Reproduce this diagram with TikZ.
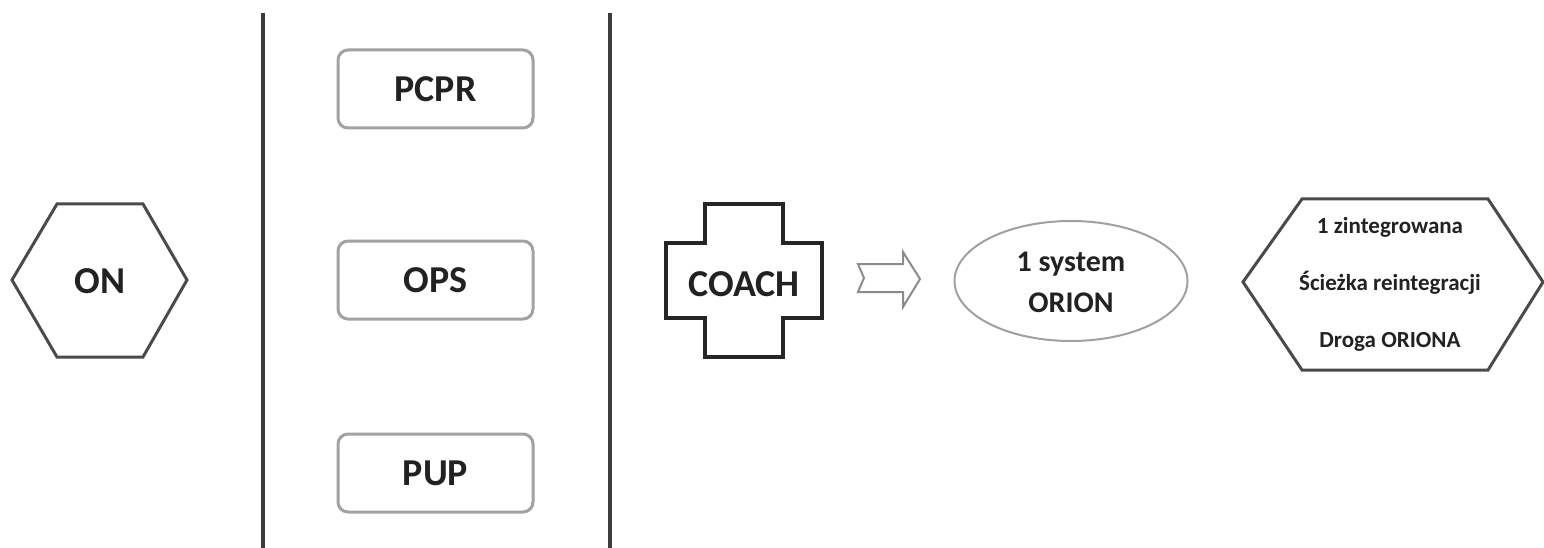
\documentclass[tikz,border=0pt]{standalone}
\usepackage{fontspec}
\setmainfont{Carlito}
\usetikzlibrary{shapes.geometric}
\definecolor{divgray}{HTML}{3C3C3C}
\definecolor{hexgray}{HTML}{4A4A4A}
\definecolor{boxgray}{HTML}{A2A2A2}
\definecolor{crossblk}{HTML}{262626}
\definecolor{arrgray}{HTML}{8C8C8C}
\definecolor{ellgray}{HTML}{A0A0A0}
\definecolor{txt}{HTML}{222222}
\begin{document}
\begin{tikzpicture}[x=1pt,y=-1pt,
  divider/.style={line width=4pt, draw=divgray},
  hexa/.style={line width=3pt, draw=hexgray, line join=miter},
  roundbox/.style={draw=boxgray, line width=3pt, rounded corners=10pt,
    minimum width=195pt, minimum height=78pt, inner sep=0pt},
  bigtext/.style={font=\fontsize{38}{40}\selectfont\bfseries, text=txt},
  midtext/.style={font=\fontsize{30}{41}\selectfont\bfseries, text=txt, align=center},
  smalltext/.style={font=\fontsize{23}{57}\selectfont\bfseries, text=txt, align=center},
  crossline/.style={line width=4pt, draw=crossblk, line join=miter},
  fatarrow/.style={line width=2pt, draw=arrgray, line join=miter},
  ellbox/.style={draw=ellgray, line width=2pt, ellipse, minimum width=233pt,
    minimum height=120pt, inner sep=0pt}
]
\useasboundingbox (0,0) rectangle (1544,548);
\fill[white] (0,0) rectangle (1544,548);

% ON hexagon
\draw[hexa] (12,280) -- (57,204) -- (143,204) -- (187,280) -- (143,357) -- (57,357) -- cycle;
\node[bigtext] (on) at (100,281) {ON};

% dividers
\coordinate (d1t) at (263,13);
\coordinate (d1b) at (263,548);
\coordinate (d2t) at (610,13);
\coordinate (d2b) at (610,548);
\draw[divider] (d1t) -- (d1b);
\draw[divider] (d2t) -- (d2b);

% boxes
\node[roundbox, bigtext] (pcpr) at (435.5,89) {PCPR};
\node[roundbox, bigtext] (ops) at (435.5,280) {OPS};
\node[roundbox, bigtext] (pup) at (435.5,473) {PUP};

% COACH cross
\draw[crossline] (705,204) -- (783,204) -- (783,243) -- (822,243) -- (822,318)
  -- (783,318) -- (783,357) -- (705,357) -- (705,318) -- (666,318) -- (666,243)
  -- (705,243) -- cycle;
\node[bigtext] (coach) at (744,284) {COACH};

% block arrow
\draw[fatarrow] (858,264) -- (903,264) -- (903,252) -- (920,279) -- (903,307)
  -- (903,292) -- (858,292) -- (864,278) -- cycle;

% ellipse
\node[ellbox] (orion) at (1071,281) {};
\node[midtext] (oriontxt) at (1071,282) {1 system\\ORION};

% right hexagon
\draw[hexa] (1243,282) -- (1302,199) -- (1488,199) -- (1543,282) -- (1488,370) -- (1302,370) -- cycle;
\node[smalltext] (path) at (1390,284) {1 zintegrowana\\Ścieżka reintegracji\\Droga ORIONA};
\end{tikzpicture}
\end{document}
